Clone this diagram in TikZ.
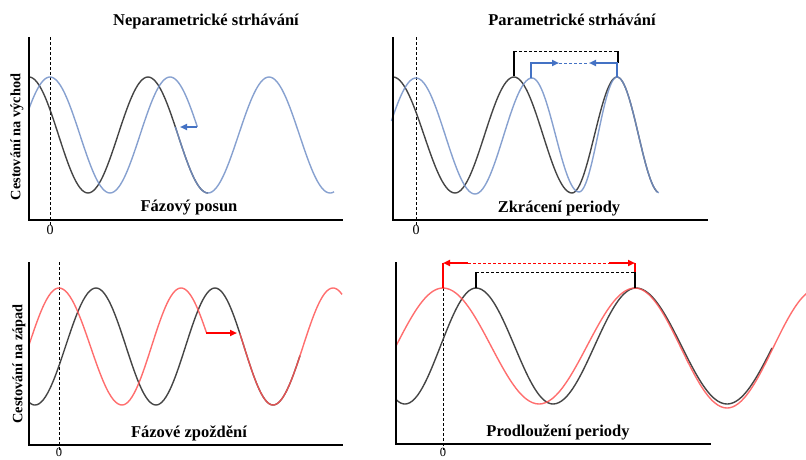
\documentclass[tikz,border=0pt]{standalone}
\usepackage{fontspec}
\setmainfont{Liberation Serif}
\usetikzlibrary{arrows.meta}
\definecolor{curveblack}{RGB}{60,60,60}
\definecolor{curveblue}{RGB}{115,145,200}
\definecolor{arrowblue}{RGB}{68,114,196}
\definecolor{curvered}{RGB}{255,85,85}
\definecolor{arrowred}{RGB}{255,0,0}
\newcommand\hw[6]{plot[domain=#5:#6,samples=30,smooth] ({#1+\x/180*(#3-#1)},{(#2+#4)/2+(#2-#4)/2*cos(\x)})}
\newcommand\hwc[6]{-- plot[domain=#5:#6,samples=30,smooth] ({#1+\x/180*(#3-#1)},{(#2+#4)/2+(#2-#4)/2*cos(\x)})}
\tikzset{
  axis/.style={line width=2.4pt, black},
  bk/.style={curveblack, line width=1.4pt, opacity=0.95, line join=round},
  bl/.style={curveblue, line width=1.4pt, opacity=0.85, line join=round},
  rd/.style={curvered, line width=1.4pt, opacity=0.85, line join=round},
  zeroline/.style={black, line width=0.8pt, dash pattern=on 3pt off 2pt},
  bra/.style={line width=1.8pt},
  brdash/.style={line width=0.9pt, dash pattern=on 3pt off 2pt},
  arr/.style={-{Triangle[length=7pt,width=6pt]}},
  title/.style={font=\fontsize{16.5}{18}\selectfont\bfseries, inner sep=0pt},
  sub/.style={font=\fontsize{16.5}{18}\selectfont\bfseries, inner sep=0pt},
  ylab/.style={font=\fontsize{14.3}{16}\selectfont\bfseries, inner sep=0pt, rotate=90},
  zlab/.style={font=\fontsize{14}{15}\selectfont, inner sep=0pt, anchor=north},
  zlabb/.style={font=\fontsize{12.5}{14}\selectfont, inner sep=0pt, anchor=north},
}
\begin{document}
\begin{tikzpicture}[x=1pt,y=-1pt]
\useasboundingbox (0,0) rectangle (806,459);
\fill[white] (0,0) rectangle (806,459);

% ---------- Panel 1 ----------
\draw[zeroline] (50,37) -- (50,226);
\draw[bk] \hw{29}{77}{88}{193}{0}{180} \hwc{88}{193}{148}{77}{0}{180} \hwc{148}{77}{208}{193}{0}{180};
\draw[bl] \hw{-10}{193}{50}{77}{117}{180} \hwc{50}{77}{110}{193}{0}{180} \hwc{110}{193}{170}{77}{0}{180} \hwc{170}{77}{230}{193}{0}{82};
\draw[bl] \hw{148}{77}{208}{193}{82}{180} \hwc{208}{193}{269}{77}{0}{180} \hwc{269}{77}{330}{193}{0}{180} \hwc{330}{193}{390}{77}{0}{12};
\coordinate (a1s) at (197,127);
\coordinate (a1e) at (180,127);
\draw[arrowblue, bra, arr] (a1s) -- (a1e);
\draw[axis] (29,37) -- (29,220) -- (343,220);
\node[title] (t1) at (206,22) {Neparametrické strhávání};
\node[ylab] (y1) at (17,137) {Cestování na východ};
\node[sub] (s1) at (189,208) {Fázový posun};
\node[zlab] (z1) at (50,225) {0};

% ---------- Panel 2 ----------
\draw[zeroline] (416,37) -- (416,226);
\draw[bk] \hw{393}{77}{455}{193}{0}{180} \hwc{455}{193}{514}{77}{0}{180} \hwc{514}{77}{572}{193}{0}{180} \hwc{572}{193}{617}{77}{0}{180} \hwc{617}{77}{660}{193}{0}{170};
\draw[bl] \hw{357}{194}{416}{78}{105}{180} \hwc{416}{78}{475}{194}{0}{180} \hwc{475}{194}{532}{78}{0}{180} \hwc{532}{78}{579}{192}{0}{180} \hwc{579}{192}{617}{77}{0}{180} \hwc{617}{77}{660}{193}{0}{175};
\coordinate (b1) at (514,76);
\coordinate (b2) at (514,51);
\coordinate (b3) at (618,51);
\coordinate (b4) at (618,63);
\draw[black, bra] (b1) -- (b2);
\draw[black, brdash] (b2) -- (b3);
\draw[black, bra] (b3) -- (b4);
\coordinate (c1) at (531,78);
\coordinate (c2) at (531,63);
\coordinate (c3) at (559,63);
\coordinate (c4) at (589,63);
\coordinate (c5) at (617,63);
\coordinate (c6) at (617,77);
\draw[arrowblue, bra, arr] (c1) -- (c2) -- (c3);
\draw[arrowblue, brdash] (c3) -- (c4);
\draw[arrowblue, bra, arr] (c6) -- (c5) -- (c4);
\draw[axis] (393,37) -- (393,220) -- (708,220);
\node[title] (t2) at (572,20) {Parametrické strhávání};
\node[sub] (s2) at (559,209) {Zkrácení periody};
\node[zlab] (z2) at (416,225) {0};

% ---------- Panel 3 ----------
\draw[zeroline] (59,262) -- (59,450);
\draw[bk] \hw{-25}{288}{35}{405}{162}{180} \hwc{35}{405}{96}{288}{0}{180} \hwc{96}{288}{156}{405}{0}{180} \hwc{156}{405}{215}{288}{0}{180} \hwc{215}{288}{273}{405}{0}{180} \hwc{273}{405}{333}{288}{0}{81};
\draw[rd] \hw{-2}{405}{59}{288}{91}{180} \hwc{59}{288}{122}{405}{0}{180} \hwc{122}{405}{181}{288}{0}{180} \hwc{181}{288}{241}{405}{0}{76};
\draw[rd] \hw{215}{288}{273}{405}{77}{180} \hwc{273}{405}{333}{288}{0}{180} \hwc{333}{288}{393}{405}{0}{27};
\coordinate (d1s) at (206,333);
\coordinate (d1e) at (237,333);
\draw[arrowred, bra, arr] (d1s) -- (d1e);
\draw[axis] (29,262) -- (29,445) -- (343,445);
\node[ylab] (y2) at (19,364) {Cestování na západ};
\node[sub] (s3) at (189,433) {Fázové zpoždění};
\node[zlabb] (z3) at (59,448) {0};

% ---------- Panel 4 ----------
\draw[zeroline] (443,288) -- (443,450);
\draw[bk] \hw{334}{288}{405}{404}{157}{180} \hwc{405}{404}{476}{288}{0}{180} \hwc{476}{288}{553}{404}{0}{180} \hwc{553}{404}{636}{288}{0}{180} \hwc{636}{288}{727}{404}{0}{180} \hwc{727}{404}{819}{288}{0}{88};
\draw[rd] \hw{349}{404}{443}{288}{90}{180} \hwc{443}{288}{539}{404}{0}{180} \hwc{539}{404}{635}{288}{0}{180} \hwc{635}{288}{727}{408}{0}{180} \hwc{727}{408}{819}{288}{0}{160};
\coordinate (e1) at (443,288);
\coordinate (e2) at (443,263);
\coordinate (e3) at (468,263);
\coordinate (e4) at (609,263);
\coordinate (e5) at (635,263);
\coordinate (e6) at (635,272);
\coordinate (e7) at (635,288);
\coordinate (f1) at (476,288);
\coordinate (f2) at (476,272);
\draw[arrowred, bra] (e1) -- (e2);
\draw[arrowred, bra, arr] (e3) -- (e2);
\draw[arrowred, brdash] (e3) -- (e4);
\draw[arrowred, bra, arr] (e4) -- (e5);
\draw[arrowred, bra] (e5) -- (e6);
\draw[black, bra] (e6) -- (e7);
\draw[black, bra] (f1) -- (f2);
\draw[black, brdash] (f2) -- (e6);
\draw[axis] (396,262) -- (396,444) -- (711,444);
\node[sub] (s4) at (558,432) {Prodloužení periody};
\node[zlabb] (z4) at (443,448) {0};
\end{tikzpicture}
\end{document}
